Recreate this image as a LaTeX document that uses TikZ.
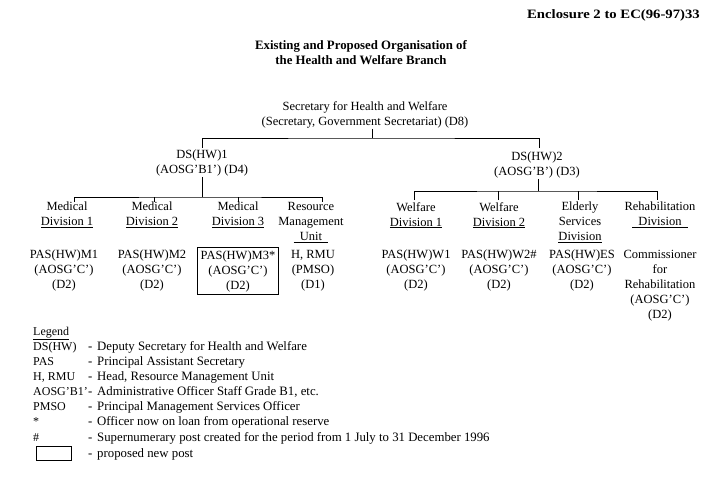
\documentclass[tikz,border=0pt]{standalone}
\usepackage{fontspec}
\usepackage{graphicx}
\setmainfont{Liberation Serif}
\begin{document}
\begin{tikzpicture}[x=1pt,y=-1pt,
  chart/.style={align=center,inner sep=0pt,font=\fontsize{12.5}{15}\selectfont},
  divn/.style={chart,anchor=north},
  post/.style={chart,anchor=north},
  newpost/.style={post,draw,line width=0.7pt,inner xsep=3.5pt,inner ysep=3pt},
  legkey/.style={anchor=base west,inner sep=0pt,font=\fontsize{12}{14}\selectfont},
  legtxt/.style={anchor=base west,inner sep=0pt,font=\fontsize{12.8}{14}\selectfont},
  wire/.style={line width=0.8pt},
  ]
\useasboundingbox (0,0) rectangle (715,484);
% headings
\node[chart,font=\bfseries\fontsize{12.8}{15}\selectfont,anchor=east] (encl) at (700,15) {\scalebox{1.15}[1]{Enclosure 2 to EC(96-97)33}};
\node[chart,font=\bfseries\fontsize{12.8}{15}\selectfont] (title) at (361,52.5) {Existing and Proposed Organisation of\\the Health and Welfare Branch};
% top levels
\node[chart] (sec) at (365,115) {Secretary for Health and Welfare\\(Secretary, Government Secretariat) (D8)};
\node[chart] (ds1) at (202,162.5) {DS(HW)1\\(AOSG'B1') (D4)};
\node[chart] (ds2) at (537,164.5) {DS(HW)2\\(AOSG'B') (D3)};
% divisions
\node[divn] (md1) at (67,202) {Medical\\\underline{Division 1}};
\node[divn] (md2) at (152,202) {Medical\\\underline{Division 2}};
\node[divn] (md3) at (238,202) {Medical\\\underline{Division 3}};
\node[divn] (rmu) at (311,202) {Resource\\Management\\\underline{\ \ Unit\ \ }};
\node[divn] (wd1) at (416,202) {Welfare\\\underline{Division 1}};
\node[divn] (wd2) at (499,202) {Welfare\\\underline{Division 2}};
\node[divn] (esd) at (580,202) {Elderly\\Services\\\underline{Division}};
\node[divn] (rhd) at (660,202) {Rehabilitation\\\underline{\ \ Division\ \ }};
% posts
\node[post] (p1) at (64,250) {PAS(HW)M1\\(AOSG'C')\\(D2)};
\node[post] (p2) at (152,250) {PAS(HW)M2\\(AOSG'C')\\(D2)};
\node[newpost] (p3) at (238,247) {PAS(HW)M3*\\(AOSG'C')\\(D2)};
\node[post] (p4) at (313,250) {H, RMU\\(PMSO)\\(D1)};
\node[post] (p5) at (416,250) {PAS(HW)W1\\(AOSG'C')\\(D2)};
\node[post] (p6) at (499,250) {PAS(HW)W2\#\\(AOSG'C')\\(D2)};
\node[post] (p7) at (582,250) {PAS(HW)ES\\(AOSG'C')\\(D2)};
\node[post] (p8) at (660,250) {Commissioner\\for\\Rehabilitation\\(AOSG'C')\\(D2)};
% connectors: top
\coordinate (t0) at (372,129);
\coordinate (j0) at (372,138);
\coordinate (a1) at (202,148);
\coordinate (a2) at (539,148);
\draw[wire] (t0) -- (j0);
\draw[wire] (a1) |- (j0) -| (a2);
% left branch
\coordinate (b0) at (202,177);
\coordinate (b1) at (202,197);
\coordinate (l1) at (74,202);
\coordinate (l2) at (154,202);
\coordinate (l3) at (238,202);
\coordinate (l4) at (322,202);
\draw[wire] (b0) -- (b1);
\draw[wire] (l1) |- (b1) -| (l4);
\draw[wire] (l2) -- (l2 |- b1);
\draw[wire] (l3) -- (l3 |- b1);
% right branch
\coordinate (c0) at (538,179);
\coordinate (c1) at (538,191);
\coordinate (r1) at (414,200);
\coordinate (r2) at (498,200);
\coordinate (r3) at (578,200);
\coordinate (r4) at (657,200);
\draw[wire] (c0) -- (c1);
\draw[wire] (r1) |- (c1) -| (r4);
\draw[wire] (r2) -- (r2 |- c1);
\draw[wire] (r3) -- (r3 |- c1);
% legend
\node[legkey] (lg) at (33,335) {\underline{Legend}};
\node[legkey] (k1) at (33,350) {DS(HW)};
\node[legtxt] (d1) at (88,350) {-};
\node[legtxt] (v1) at (97,350) {Deputy Secretary for Health and Welfare};
\node[legkey] (k2) at (33,365) {PAS};
\node[legtxt] (d2) at (88,365) {-};
\node[legtxt] (v2) at (97,365) {Principal Assistant Secretary};
\node[legkey] (k3) at (33,380) {H, RMU};
\node[legtxt] (d3) at (88,380) {-};
\node[legtxt] (v3) at (97,380) {Head, Resource Management Unit};
\node[legkey] (k4) at (33,395) {AOSG'B1'};
\node[legtxt] (d4) at (88,395) {-};
\node[legtxt] (v4) at (97,395) {Administrative Officer Staff Grade B1, etc.};
\node[legkey] (k5) at (33,410) {PMSO};
\node[legtxt] (d5) at (88,410) {-};
\node[legtxt] (v5) at (97,410) {Principal Management Services Officer};
\node[legkey] (k6) at (33,425) {*};
\node[legtxt] (d6) at (88,425) {-};
\node[legtxt] (v6) at (97,425) {Officer now on loan from operational reserve};
\node[legkey] (k7) at (33,441) {\#};
\node[legtxt] (d7) at (88,441) {-};
\node[legtxt] (v7) at (97,441) {Supernumerary post created for the period from 1 July to 31 December 1996};
\node[draw,line width=0.7pt,minimum width=35pt,minimum height=14pt,inner sep=0pt] (k8) at (53.5,453) {};
\node[legtxt] (d8) at (88,457) {-};
\node[legtxt] (v8) at (97,457) {proposed new post};
\end{tikzpicture}
\end{document}
